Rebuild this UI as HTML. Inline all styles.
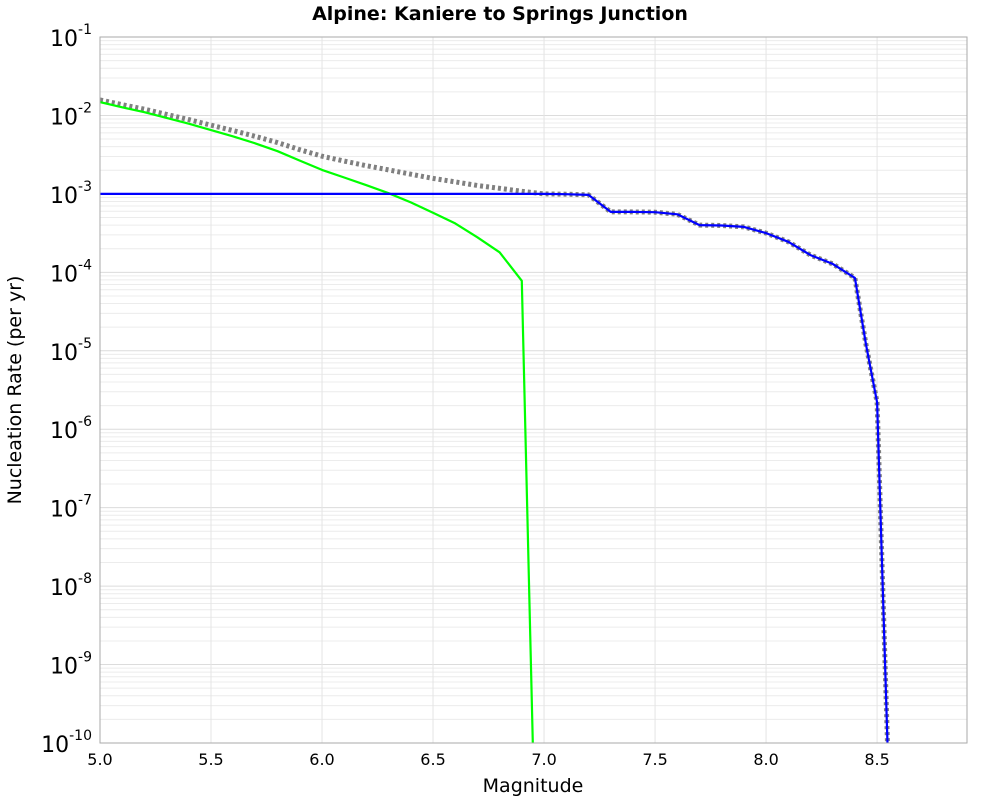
<!DOCTYPE html>
<html><head><meta charset="utf-8"><style>
html,body{margin:0;padding:0;background:#fff;overflow:hidden;width:1000px;height:800px}
svg{display:block}
</style></head><body>
<svg id="chart" width="1000" height="800" xmlns="http://www.w3.org/2000/svg" style="font-family:'DejaVu Sans','Liberation Sans',sans-serif">
<rect width="1000" height="800" fill="#fff"/>
<text x="500" y="20" text-anchor="middle" font-size="19" font-weight="bold">Alpine: Kaniere to Springs Junction</text>
<text x="533" y="792" text-anchor="middle" font-size="19">Magnitude</text>
<text transform="translate(21,390) rotate(-90)" text-anchor="middle" font-size="19">Nucleation Rate (per yr)</text>
<g id="grid"></g><g id="series"></g><g id="axes"></g>
</svg>
<script>
const xTicks=[5.0,5.5,6.0,6.5,7.0,7.5,8.0,8.5];
const yExps=[-1,-2,-3,-4,-5,-6,-7,-8,-9,-10];
const greenMags=[5.0,5.1,5.2,5.3,5.4,5.5,5.6,5.7,5.8,5.9,6.0,6.1,6.2,6.3,6.4,6.5,6.6,6.7,6.8,6.9,7.0];
const greenVals=[1.48e-2,1.27e-2,1.10e-2,9.3e-3,7.85e-3,6.5e-3,5.4e-3,4.4e-3,3.5e-3,2.66e-3,2.02e-3,1.62e-3,1.29e-3,1.02e-3,7.8e-4,5.75e-4,4.2e-4,2.8e-4,1.8e-4,7.8e-5,1e-16];
const blueMags=[5.0,7.0,7.1,7.2,7.3,7.4,7.5,7.6,7.7,7.8,7.9,8.0,8.1,8.2,8.3,8.4,8.45,8.5,8.55];
const blueVals=[1e-3,1e-3,9.9e-4,9.7e-4,5.9e-4,5.9e-4,5.85e-4,5.5e-4,4.0e-4,3.95e-4,3.8e-4,3.16e-4,2.45e-4,1.66e-4,1.28e-4,8.5e-5,1.2e-5,2.2e-6,5e-11];
const grayMags=[5.0,5.1,5.2,5.3,5.4,5.5,5.6,5.7,5.8,5.9,6.0,6.1,6.2,6.3,6.4,6.5,6.6,6.7,6.8,6.9,7.0,7.1,7.2,7.3,7.4,7.5,7.6,7.7,7.8,7.9,8.0,8.1,8.2,8.3,8.4,8.45,8.5,8.55];
const grayVals=[1.58e-2,1.37e-2,1.20e-2,1.03e-2,8.85e-3,7.5e-3,6.4e-3,5.4e-3,4.5e-3,3.66e-3,3.02e-3,2.62e-3,2.29e-3,2.02e-3,1.78e-3,1.575e-3,1.42e-3,1.28e-3,1.18e-3,1.08e-3,1.0e-3,9.9e-4,9.7e-4,5.9e-4,5.9e-4,5.85e-4,5.5e-4,4.0e-4,3.95e-4,3.8e-4,3.16e-4,2.45e-4,1.66e-4,1.28e-4,8.5e-5,1.2e-5,2.2e-6,5e-11];

const L=100,R=967,T=37,B=743,xMin=5,xMax=8.905,yTop=-1,yBot=-10;
const X=m=>L+(m-xMin)/(xMax-xMin)*(R-L);
const Y=v=>T+(yTop-Math.log10(v))/(yTop-yBot)*(B-T);
const NS="http://www.w3.org/2000/svg";
function mk(tag,attrs,parent){const e=document.createElementNS(NS,tag);for(const k in attrs)e.setAttribute(k,attrs[k]);parent.appendChild(e);return e;}
const grid=document.getElementById('grid'),series=document.getElementById('series'),axes=document.getElementById('axes');
mk('rect',{x:L,y:T,width:R-L,height:B-T,fill:'#fff'},grid);
for(let e=-10;e<-1;e++){for(let k=2;k<=9;k++){const y=Y(k*Math.pow(10,e));
const l=mk('line',{x1:L,x2:R,y1:y,y2:y,stroke:'#ececec','stroke-width':1},grid);

}}
yExps.forEach(e=>{const y=Y(Math.pow(10,e));
const l=mk('line',{x1:L,x2:R,y1:y,y2:y,stroke:'#dcdcdc','stroke-width':1},grid);


const t=mk('text',{x:L-8,y:y+9,'text-anchor':'end','font-size':22},axes);


t.innerHTML='10<tspan dy="-12" font-size="14">'+e+'</tspan>';});
xTicks.forEach(m=>{const x=X(m);
const l=mk('line',{x1:x,x2:x,y1:T,y2:B,stroke:'#e4e4e4','stroke-width':1},grid);


const t=mk('text',{x:x,y:B+22,'text-anchor':'middle','font-size':16},axes);


t.textContent=m.toFixed(1);});
const frame=mk('rect',{x:L,y:T,width:R-L,height:B-T,fill:'none',stroke:'#aaa','stroke-width':1},axes);


mk('clipPath',{id:'clip'},series);
mk('rect',{x:L,y:T,width:R-L,height:B-T},document.getElementById('clip'));
function line(ms,vs,attrs,name){const d=ms.map((m,i)=>(i?'L':'M')+X(m).toFixed(1)+','+Y(vs[i]).toFixed(1)).join('');
const p=mk('path',Object.assign({d:d,fill:'none','clip-path':'url(#clip)','stroke-linejoin':'round'},attrs),series);

}
line(grayMags,grayVals,{stroke:'#808080','stroke-width':5,'stroke-dasharray':'3,3'},'total-rate-line');
line(greenMags,greenVals,{stroke:'#00ff00','stroke-width':2.2},'gr-rate-line');
line(blueMags,blueVals,{stroke:'#0000ff','stroke-width':2.2},'nucleation-rate-line');
</script>
</body></html>
